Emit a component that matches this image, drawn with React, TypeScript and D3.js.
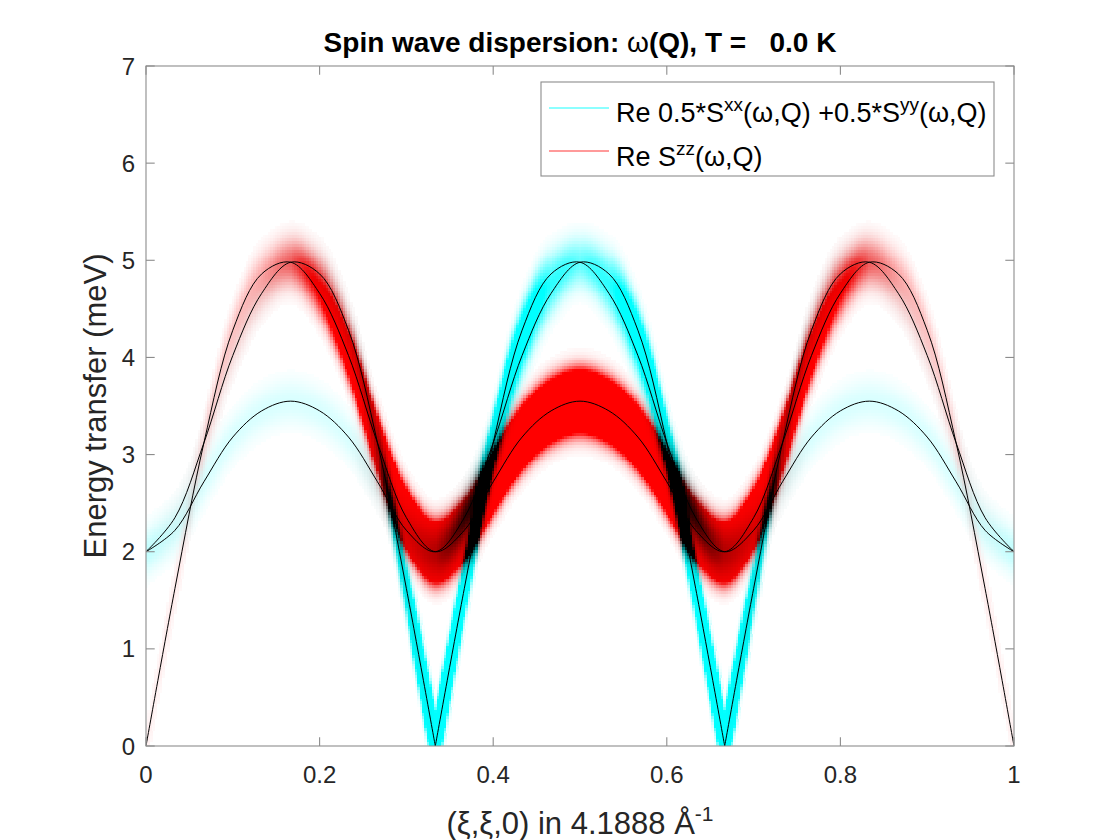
import { useMemo } from "react";
import * as d3 from "d3";

// Q points along (xi,xi,0), r.l.u.
const Q_GRID = [
  0, 0.0333, 0.0667, 0.1, 0.1333, 0.1667, 0.2, 0.2333, 0.2667, 0.3, 0.3333,
  0.3667, 0.4, 0.4333, 0.4667, 0.5, 0.5333, 0.5667, 0.6, 0.6333, 0.6667, 0.7,
  0.7333, 0.7667, 0.8, 0.8333, 0.8667, 0.9, 0.9333, 0.9667, 1,
];

// mode energies (meV)
const MODE_1 = [
  0, 1.62, 3.12, 4.28, 4.86, 4.98, 4.66, 4.02, 3.12, 2.35, 2.0, 2.22, 2.72,
  3.18, 3.45, 3.55, 3.45, 3.18, 2.72, 2.22, 2.0, 2.35, 3.12, 4.02, 4.66, 4.98,
  4.86, 4.28, 3.12, 1.62, 0,
];
const MODE_2 = [
  2.0, 2.35, 3.12, 4.02, 4.66, 4.98, 4.86, 4.28, 3.12, 1.62, 0, 1.62, 3.12,
  4.28, 4.86, 4.98, 4.66, 4.02, 3.12, 2.35, 2.0, 2.22, 2.72, 3.18, 3.45, 3.55,
  3.45, 3.18, 2.72, 2.22, 2.0,
];
const MODE_3 = [
  2.0, 2.22, 2.72, 3.18, 3.45, 3.55, 3.45, 3.18, 2.72, 2.22, 2.0, 2.35, 3.12,
  4.02, 4.66, 4.98, 4.86, 4.28, 3.12, 1.62, 0, 1.62, 3.12, 4.28, 4.86, 4.98,
  4.66, 4.02, 3.12, 2.35, 2.0,
];

// Re Szz (red) weight per mode
const SZZ_1 = [
  0.06, 0.08, 0.12, 0.2, 0.28, 0.35, 0.9, 2.0, 4.0, 6.0, 6.0, 6.0, 7.0, 8.0,
  8.0, 8.0, 8.0, 8.0, 7.0, 6.0, 6.0, 6.0, 4.0, 2.0, 0.9, 0.35, 0.28, 0.2, 0.12,
  0.08, 0.06,
];
const SZZ_2 = [
  0, 0.03, 0.06, 0.1, 0.15, 0.28, 0.35, 0.3, 0.2, 0.1, 0, 0, 0, 0, 0, 0, 0, 0,
  0.1, 0.3, 0.5, 0.3, 0.1, 0, 0, 0, 0, 0, 0, 0, 0,
];
const SZZ_3 = [
  0, 0, 0, 0, 0, 0, 0, 0, 0.1, 0.3, 0.5, 0.3, 0.1, 0, 0, 0, 0, 0, 0, 0, 0,
  0.1, 0.2, 0.3, 0.35, 0.28, 0.15, 0.1, 0.06, 0.03, 0,
];

// Re 0.5*Sxx + 0.5*Syy (cyan) weight per mode
const SPERP_1 = [
  0, 0, 0, 0, 0, 0, 0, 0, 0, 0, 0, 0, 0, 0, 0, 0, 0, 0, 0, 0, 0, 0, 0, 0, 0,
  0, 0, 0, 0, 0, 0,
];
const SPERP_2 = [
  0.12, 0.06, 0.04, 0.03, 0.04, 0.06, 0.08, 0.15, 0.35, 1.8, 12, 4, 2.5, 1.5,
  0.5, 0.3, 0.5, 0.8, 1.0, 0.8, 0.3, 0.15, 0.15, 0.15, 0.15, 0.15, 0.15, 0.15,
  0.15, 0.15, 0.12,
];
const SPERP_3 = [
  0.12, 0.15, 0.15, 0.15, 0.15, 0.15, 0.15, 0.15, 0.15, 0.15, 0.3, 0.8, 1.0,
  0.8, 0.5, 0.3, 0.5, 1.5, 2.5, 4, 12, 1.8, 0.35, 0.15, 0.08, 0.06, 0.04, 0.03,
  0.04, 0.06, 0.12,
];

const X_TICKS = [0, 0.2, 0.4, 0.6, 0.8, 1];
const Y_TICKS = [0, 1, 2, 3, 4, 5, 6, 7];

const W = 1120;
const H = 840;
const M = { left: 146, right: 106, top: 66, bottom: 94 };
const FONT = "'Liberation Sans', Arial, Helvetica, sans-serif";
const AXIS = "#8c8c8c";
const TXT = "#262626";
const TICK = 8.7;

const SIGMA = 0.16; // energy resolution (meV)
const N_COLS = 360;
const DE = 0.03;

const MODES = [
  { e: MODE_1, red: SZZ_1, cyan: SPERP_1 },
  { e: MODE_2, red: SZZ_2, cyan: SPERP_2 },
  { e: MODE_3, red: SZZ_3, cyan: SPERP_3 },
];

type Pt = [number, number];

// records the bezier pieces d3's curve emits and flattens them
const flatten = (pts: Pt[]) => {
  const out: Pt[] = [];
  let cx = 0;
  let cy = 0;
  const ctx: any = {
    moveTo(x: number, y: number) {
      out.push([x, y]);
      cx = x;
      cy = y;
    },
    lineTo(x: number, y: number) {
      out.push([x, y]);
      cx = x;
      cy = y;
    },
    bezierCurveTo(x1: number, y1: number, x2: number, y2: number, x: number, y: number) {
      for (let k = 1; k <= 24; k++) {
        const t = k / 24;
        const u = 1 - t;
        out.push([
          u * u * u * cx + 3 * u * u * t * x1 + 3 * u * t * t * x2 + t * t * t * x,
          u * u * u * cy + 3 * u * u * t * y1 + 3 * u * t * t * y2 + t * t * t * y,
        ]);
      }
      cx = x;
      cy = y;
    },
    closePath() {},
  };
  d3.line<Pt>().curve(d3.curveCatmullRom).context(ctx)(pts);
  return out;
};

export default function App() {
  const x = d3.scaleLinear().domain([0, 1]).range([M.left, W - M.right]);
  const y = d3.scaleLinear().domain([0, 7]).range([H - M.bottom, M.top]);

  const { segments, cells } = useMemo(() => {
    // split each mode at its Goldstone points so the V stays sharp
    const segs = MODES.map((m) => {
      const cuts = [0];
      m.e.forEach((v, i) => {
        if (v === 0 && i > 0 && i < m.e.length - 1) cuts.push(i);
      });
      cuts.push(m.e.length - 1);
      return d3
        .pairs(cuts)
        .map(([a, b]) => d3.range(a, b + 1).map((i) => [x(Q_GRID[i]), y(m.e[i])] as Pt));
    });

    const polys = segs.map((s) => s.flatMap((seg) => flatten(seg)));
    const bis = d3.bisector((d: Pt) => d[0]).left;
    const yAt = (poly: Pt[], px: number) => {
      const i = bis(poly, px);
      if (i <= 0) return poly[0][1];
      if (i >= poly.length) return poly[poly.length - 1][1];
      const [x0, y0] = poly[i - 1];
      const [x1, y1] = poly[i];
      return x1 === x0 ? y1 : y0 + ((y1 - y0) * (px - x0)) / (x1 - x0);
    };

    const redW = MODES.map((m) => d3.scaleLinear(Q_GRID, m.red).clamp(true));
    const cyanW = MODES.map((m) => d3.scaleLinear(Q_GRID, m.cyan).clamp(true));

    const cw = (x(1) - x(0)) / N_COLS;
    const rh = Math.abs(y(DE) - y(0));
    const nRows = Math.round(7 / DE);
    const out: { x: number; y: number; fill: string; w: number; h: number }[] = [];

    for (let j = 0; j <= N_COLS; j++) {
      const q = j / N_COLS;
      const px = x(q);
      const om = polys.map((p) => y.invert(yAt(p, px)));
      const ar = redW.map((s) => s(q));
      const ac = cyanW.map((s) => s(q));
      for (let k = 0; k <= nRows; k++) {
        const e = k * DE;
        let r = 0;
        let c = 0;
        for (let b = 0; b < om.length; b++) {
          const d = e - om[b];
          if (Math.abs(d) > 4 * SIGMA) continue;
          const g = Math.exp(-(d * d) / (2 * SIGMA * SIGMA));
          r += ar[b] * g;
          c += ac[b] * g;
        }
        r = Math.min(1, r);
        c = Math.min(1, c);
        if (r < 0.02 && c < 0.02) continue;
        const R = Math.round(255 * (1 - c));
        const G = Math.round(255 * (1 - r));
        out.push({
          x: px - cw / 2,
          y: y(e) - rh / 2,
          w: cw + 0.6,
          h: rh + 0.6,
          fill: `rgb(${R},${G},${G})`,
        });
      }
    }
    return { segments: segs, cells: out };
  }, []);

  const line = d3.line<Pt>().curve(d3.curveCatmullRom);
  const x0 = x(0);
  const x1 = x(1);
  const y0 = y(0);
  const y1 = y(7);

  return (
    <svg
      width={W}
      height={H}
      style={{ position: "absolute", left: 0, top: 0, background: "#fff" }}
      fontFamily={FONT}
    >
      <defs>
        <clipPath id="plot">
          <rect x={x0} y={y1} width={x1 - x0} height={y0 - y1} />
        </clipPath>
      </defs>

      <g clipPath="url(#plot)" shapeRendering="crispEdges">
        {cells.map((c, i) => (
          <rect key={i} x={c.x} y={c.y} width={c.w} height={c.h} fill={c.fill} />
        ))}
      </g>

      <g clipPath="url(#plot)" fill="none" stroke="#000" strokeWidth={1}>
        {segments.flat().map((seg, i) => (
          <path key={i} d={line(seg) ?? ""} />
        ))}
      </g>

      {/* axes box and ticks */}
      <g stroke={AXIS} strokeWidth={1.1} fill="none">
        <rect x={x0} y={y1} width={x1 - x0} height={y0 - y1} />
        {X_TICKS.map((t) => (
          <g key={t}>
            <line x1={x(t)} x2={x(t)} y1={y0} y2={y0 - TICK} />
            <line x1={x(t)} x2={x(t)} y1={y1} y2={y1 + TICK} />
          </g>
        ))}
        {Y_TICKS.map((t) => (
          <g key={t}>
            <line x1={x0} x2={x0 + TICK} y1={y(t)} y2={y(t)} />
            <line x1={x1} x2={x1 - TICK} y1={y(t)} y2={y(t)} />
          </g>
        ))}
      </g>

      <g fill={TXT} fontSize={24}>
        {X_TICKS.map((t) => (
          <text key={t} x={x(t)} y={y0 + 37} textAnchor="middle">
            {String(t)}
          </text>
        ))}
        {Y_TICKS.map((t) => (
          <text key={t} x={x0 - 11} y={y(t) + 8.5} textAnchor="end">
            {String(t)}
          </text>
        ))}
      </g>

      {/* legend */}
      <g>
        <rect x={541} y={82} width={453} height={94} fill="#fff" stroke={AXIS} strokeWidth={1.1} />
        <line x1={549} x2={609} y1={108} y2={108} stroke="#66ffff" strokeWidth={1.5} />
        <line x1={549} x2={609} y1={151} y2={151} stroke="#ff7878" strokeWidth={1.5} />
        <text x={616} y={122} fontSize={27} fill="#000">
          <tspan>Re 0.5*S</tspan>
          <tspan fontSize={19} dy={-11}>xx</tspan>
          <tspan dy={11}>(ω,Q) +0.5*S</tspan>
          <tspan fontSize={19} dy={-11}>yy</tspan>
          <tspan dy={11}>(ω,Q)</tspan>
        </text>
        <text x={616} y={166} fontSize={27} fill="#000">
          <tspan>Re S</tspan>
          <tspan fontSize={19} dy={-11}>zz</tspan>
          <tspan dy={11}>(ω,Q)</tspan>
        </text>
      </g>

      <text
        x={(x0 + x1) / 2}
        y={52}
        textAnchor="middle"
        fontSize={28}
        fontWeight="bold"
        fill="#000"
        style={{ whiteSpace: "pre" }}
      >
        <tspan>Spin wave dispersion: </tspan>
        <tspan fontWeight="normal">ω</tspan>
        <tspan>(Q), T =   0.0 K</tspan>
      </text>

      <text x={(x0 + x1) / 2} y={834} textAnchor="middle" fontSize={31} fill={TXT}>
        <tspan>(ξ,ξ,0) in 4.1888 Å</tspan>
        <tspan fontSize={21} dy={-13}>-1</tspan>
      </text>

      <text
        transform={`translate(106,${(y0 + y1) / 2}) rotate(-90)`}
        textAnchor="middle"
        fontSize={31}
        fill={TXT}
      >
        Energy transfer (meV)
      </text>
    </svg>
  );
}
